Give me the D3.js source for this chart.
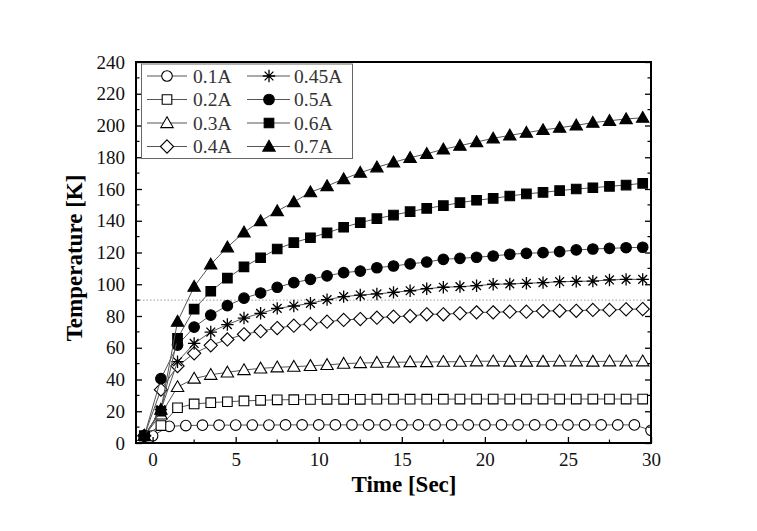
<!DOCTYPE html>
<html><head><meta charset="utf-8">
<script src="https://cdn.jsdelivr.net/npm/d3@7"></script>
<style>html,body{margin:0;padding:0;background:#fff}svg{display:block}</style>
</head><body>
<script>
// ---- data ----
const seriesNames = ["0.1A","0.2A","0.3A","0.4A","0.45A","0.5A","0.6A","0.7A"];
const seriesShapes = ["circle","square","triangle","diamond","star","circle","square","triangle"];
const seriesFilled = [false,false,false,false,false,true,true,true];

const timeA = [-0.5,0,1,2,3,4,5,6,7,8,9,10,11,12,13,14,15,16,17,18,19,20,21,22,23,24,25,26,27,28,29,30];
const timeB = [-0.5,0.5,1.5,2.5,3.5,4.5,5.5,6.5,7.5,8.5,9.5,10.5,11.5,12.5,13.5,14.5,15.5,16.5,17.5,18.5,19.5,20.5,21.5,22.5,23.5,24.5,25.5,26.5,27.5,28.5,29.5];

const v01 = [4.5,4.5,10.5,11,11.2,11.2,11.3,11.3,11.3,11.4,11.4,11.4,11.4,11.4,11.4,11.4,11.4,11.4,11.4,11.4,11.4,11.4,11.4,11.4,11.4,11.4,11.4,11.4,11.4,11.4,11.4,8];
const v02 = [4.5,11,22.2,24.6,25.4,26,26.5,26.9,27.2,27.3,27.4,27.5,27.5,27.5,27.6,27.6,27.6,27.6,27.6,27.7,27.7,27.7,27.7,27.7,27.7,27.7,27.7,27.7,27.7,27.7,27.7];
const v03 = [4.5,18,35.3,40.6,43,44.5,46,47,47.7,48.1,48.6,49.2,50,50.4,50.6,50.8,51,51,51.2,51.2,51.5,51.5,51.3,51.3,51.3,51.5,51.5,51.3,51.5,51.5,51.5];
const v04 = [4.5,33.6,48.5,56.5,61.5,65.2,68.5,70.4,72.4,73.9,75,76.4,77.5,78.1,78.9,79.6,80,81.1,81.1,81.7,82.3,82.3,82.7,82.7,83.1,83.3,83.3,83.8,83.8,84.2,84.4];
const v045 = [4.5,21,51.2,62.7,69.9,74.6,78.7,81.7,84.8,86.3,88,90.3,92.2,93.2,93.9,94.9,95.9,97.2,98.1,98.5,99.1,100,100.2,100.6,101,101.6,101.8,102,102.7,103.1,103.1];
const v05 = [4.5,40.5,61.7,73,80.6,86.5,91.2,94.5,98.1,101,103.1,105.3,107.3,108.3,110.4,111.5,112.8,114,115.7,116.3,117,117.8,118.9,119.5,119.9,120.5,121.6,122.2,122.6,123,123.3];
const v06 = [4.5,20,66,84.3,95.6,103.8,111,116.7,122.2,126.2,129.3,132.4,135.9,138.8,141.3,143.6,145.7,147.8,149.5,151.4,152.9,154.1,155.6,156.9,157.9,159,160,160.8,161.7,162.5,163.6];
const v07 = [4.5,21,76.5,98.5,112.5,123.3,132.7,139.8,146.1,151.8,158,161.9,166.3,170.3,173.7,176.8,179.7,182.2,185,187.3,189.6,191.9,193.8,195.5,197.2,198.6,200.1,201.8,203,204.1,204.9];
const seriesValues = [v01,v02,v03,v04,v045,v05,v06,v07];
const seriesTimes = [timeA,timeB,timeB,timeB,timeB,timeB,timeB,timeB];

const xTicks = [0,5,10,15,20,25,30];
const yTicks = [0,20,40,60,80,100,120,140,160,180,200,220,240];
const refLineY = 90;

// ---- layout ----
const W = 757, H = 531;
const L = 136, R = 651, T = 62, B = 443;
const svg = d3.select("body").append("svg").attr("width", W).attr("height", H);
const x = d3.scaleLinear().domain([-1, 30]).range([L, R]);
const y = d3.scaleLinear().domain([0, 240]).range([B, T]);
const FONT = "Liberation Serif, Times New Roman, serif";

function markerPath(shape) {
  switch (shape) {
    case "circle": { const r = 5.3; return `M${-r},0A${r},${r} 0 1,0 ${r},0A${r},${r} 0 1,0 ${-r},0Z`; }
    case "square": { const s = 4.8; return `M${-s},${-s}H${s}V${s}H${-s}Z`; }
    case "triangle": return "M0,-6.2L6.2,4.6L-6.2,4.6Z";
    case "diamond": { const d = 6.6; return `M0,${-d}L${d},0L0,${d}L${-d},0Z`; }
    case "star": {
      const a = 6.2, b = a * 0.707;
      return `M0,${-a}V${a}M${-a},0H${a}M${-b},${-b}L${b},${b}M${-b},${b}L${b},${-b}`;
    }
  }
}
function drawMarker(g, shape, filled) {
  const p = g.append("path").attr("d", markerPath(shape)).attr("stroke", "#000").attr("stroke-width", shape === "star" ? 1.3 : 1.1);
  if (shape === "star") p.attr("fill", "none");
  else p.attr("fill", filled ? "#000" : "#fff");
}

// clip
svg.append("clipPath").attr("id", "clip").append("rect").attr("x", L).attr("y", T).attr("width", R - L).attr("height", B - T);

// reference dotted line
svg.append("line").attr("x1", L).attr("x2", R).attr("y1", y(refLineY)).attr("y2", y(refLineY))
  .attr("stroke", "#999").attr("stroke-width", 1).attr("stroke-dasharray", "1.5,2");

// series
const plot = svg.append("g").attr("clip-path", "url(#clip)");
const line = d3.line().x(d => x(d[0])).y(d => y(d[1]));
seriesNames.forEach((name, i) => {
  const pts = seriesTimes[i].map((t, j) => [t, seriesValues[i][j]]);
  const g = plot.append("g");
  g.append("path").datum(pts).attr("d", line).attr("fill", "none").attr("stroke", "#555").attr("stroke-width", 1);
  pts.forEach(p => {
    const mg = g.append("g").attr("transform", `translate(${x(p[0])},${y(p[1])})`);
    drawMarker(mg, seriesShapes[i], seriesFilled[i]);
  });
});

// axes
const axB = d3.axisBottom(x).tickValues(xTicks).tickSize(-6).tickPadding(10).tickFormat(d3.format("d"));
const axL = d3.axisLeft(y).tickValues(yTicks).tickSize(-6).tickPadding(11).tickFormat(d3.format("d"));
const gB = svg.append("g").attr("transform", `translate(0,${B})`).call(axB);
const gL = svg.append("g").attr("transform", `translate(${L},0)`).call(axL);
[gB, gL].forEach(g => {
  g.attr("font-family", FONT).attr("font-size", 19);
  g.select(".domain").remove();
  g.selectAll(".tick line").attr("stroke", "#000").attr("stroke-width", 1.3);
  g.selectAll(".tick text").style("font-family", FONT).style("font-size", "19px").attr("fill", "#111");
});
// minor ticks
const xMinor = [-0.5].concat(xTicks.slice(0, -1).map(d => d + 2.5));
svg.append("g").selectAll("line").data(xMinor).join("line")
  .attr("x1", d => x(d)).attr("x2", d => x(d)).attr("y1", B).attr("y2", B - 3.5)
  .attr("stroke", "#000").attr("stroke-width", 1.2);
const yMinor = yTicks.slice(0, -1).map(d => d + 10);
svg.append("g").selectAll("line").data(yMinor).join("line")
  .attr("x1", L).attr("x2", L + 3.5).attr("y1", d => y(d)).attr("y2", d => y(d))
  .attr("stroke", "#000").attr("stroke-width", 1.2);
// right axis ticks
const axR = d3.axisRight(y).tickValues(yTicks).tickSize(-6).tickFormat("");
const gR = svg.append("g").attr("transform", `translate(${R},0)`).call(axR);
gR.select(".domain").remove();
gR.selectAll(".tick line").attr("stroke", "#000").attr("stroke-width", 1.3);
svg.append("g").selectAll("line").data(yMinor).join("line")
  .attr("x1", R).attr("x2", R - 3.5).attr("y1", d => y(d)).attr("y2", d => y(d))
  .attr("stroke", "#000").attr("stroke-width", 1.2);

// frame
svg.append("rect").attr("x", L).attr("y", T).attr("width", R - L).attr("height", B - T)
  .attr("fill", "none").attr("stroke", "#000").attr("stroke-width", 2);

// axis titles
svg.append("text").attr("x", 404).attr("y", 492).attr("text-anchor", "middle")
  .style("font-family", FONT).attr("font-weight", "bold").attr("font-size", 23).text("Time [Sec]");
svg.append("text").attr("transform", "translate(82,258) rotate(-90)").attr("text-anchor", "middle")
  .style("font-family", FONT).attr("font-weight", "bold").attr("font-size", 23).text("Temperature [K]");

// legend
const lg = svg.append("g");
lg.append("rect").attr("x", 141.5).attr("y", 64).attr("width", 211).attr("height", 94.5)
  .attr("fill", "#fff").attr("stroke", "#666").attr("stroke-width", 1);
const rowY = [76, 99.5, 123, 146.5];
const cols = [{x1: 147, x2: 187, mx: 167, tx: 193}, {x1: 247, x2: 290, mx: 269, tx: 294}];
seriesNames.forEach((name, i) => {
  const c = cols[Math.floor(i / 4)], ry = rowY[i % 4];
  lg.append("line").attr("x1", c.x1).attr("x2", c.x2).attr("y1", ry).attr("y2", ry).attr("stroke", "#555").attr("stroke-width", 1);
  const mg = lg.append("g").attr("transform", `translate(${c.mx},${ry})`);
  drawMarker(mg, seriesShapes[i], seriesFilled[i]);
  lg.append("text").attr("x", c.tx).attr("y", ry + 6.5).style("font-family", FONT).attr("font-size", 19.5)
    .attr("fill", "#333").text(name);
});
</script>
</body></html>
